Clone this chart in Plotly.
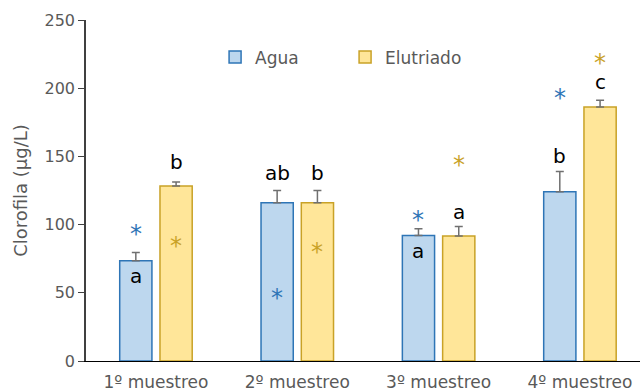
import plotly.graph_objects as go

# Clorofila por muestreo y tipo de muestra
muestreos = ["1º muestreo", "2º muestreo", "3º muestreo", "4º muestreo"]
agua = [73.5, 116, 92, 124]
agua_err = [6, 9, 5, 15]
elutriado = [128.3, 116, 91.6, 186.2]
elutriado_err = [3, 9, 7, 5]

# Letras de significancia (posición y) por serie
letras_agua = ["a", "ab", "a", "b"]
letras_agua_y = [62, 138, 80.6, 150]
letras_elu = ["b", "b", "a", "c"]
letras_elu_y = [146, 138, 109.5, 204.5]
# Asteriscos (posición y) por serie
ast_agua_y = [96, 49, 106.3, 195.5]
ast_elu_y = [87.5, 82.6, 146.6, 221.5]

AZUL_FILL, AZUL_LINE = "#BDD7EE", "#2E75B6"
ORO_FILL, ORO_LINE = "#FFE699", "#C9A227"
FONT = "DejaVu Sans, Verdana, sans-serif"
GRIS = "#595959"

fig = go.Figure()
fig.add_trace(go.Bar(
    name="Agua", x=muestreos, y=agua,
    marker=dict(color=AZUL_FILL, line=dict(color=AZUL_LINE, width=1.5)),
    error_y=dict(type="data", array=agua_err, arrayminus=[0] * 4,
                 color="#707070", thickness=1.5, width=4),
))
fig.add_trace(go.Bar(
    name="Elutriado", x=muestreos, y=elutriado,
    marker=dict(color=ORO_FILL, line=dict(color=ORO_LINE, width=1.5)),
    error_y=dict(type="data", array=elutriado_err, arrayminus=[0] * 4,
                 color="#707070", thickness=1.5, width=4),
))

off = 0.1425
annotations = []
for i in range(len(muestreos)):
    for dx, txt, yy in ((-off, letras_agua[i], letras_agua_y[i]),
                        (off, letras_elu[i], letras_elu_y[i])):
        annotations.append(dict(x=i + dx, y=yy, text=txt, showarrow=False,
                                font=dict(family=FONT, size=20, color="black"),
                                xref="x", yref="y", yanchor="middle"))
    for dx, yy, col in ((-off, ast_agua_y[i], AZUL_LINE),
                        (off, ast_elu_y[i], ORO_LINE)):
        annotations.append(dict(x=i + dx, y=yy, text="*", showarrow=False,
                                font=dict(family=FONT, size=24, color=col),
                                xref="x", yref="y", yanchor="middle", yshift=-4))

fig.update_layout(
    width=640, height=392,
    margin=dict(l=86, r=0, t=20, b=31),
    paper_bgcolor="white", plot_bgcolor="white",
    barmode="group", bargap=0.43, bargroupgap=0.2,
    font=dict(family=FONT, size=16, color=GRIS),
    showlegend=True,
    legend=dict(orientation="h", x=0.233, y=0.89, xanchor="left", yanchor="middle",
                font=dict(family=FONT, size=17, color=GRIS),
                bgcolor="rgba(0,0,0,0)", entrywidth=85, entrywidthmode="pixels",
                itemwidth=30),
    annotations=annotations,
    xaxis=dict(range=[-0.495, 3.425], showline=True, linecolor="black", linewidth=1.2,
               ticks="", tickfont=dict(size=17, color=GRIS), showgrid=False,
               ticklabelstandoff=5, automargin=False),
    yaxis=dict(range=[0, 250], tickvals=[0, 50, 100, 150, 200, 250],
               showline=True, linecolor="#404040", linewidth=1.5,
               ticks="outside", ticklen=6, tickcolor="#404040",
               tickfont=dict(size=16, color=GRIS), showgrid=False, zeroline=False,
               title=dict(text="Clorofila (µg/L)", font=dict(size=18, color=GRIS),
                          standoff=12),
               automargin=False),
)

fig.write_html("out.html")
